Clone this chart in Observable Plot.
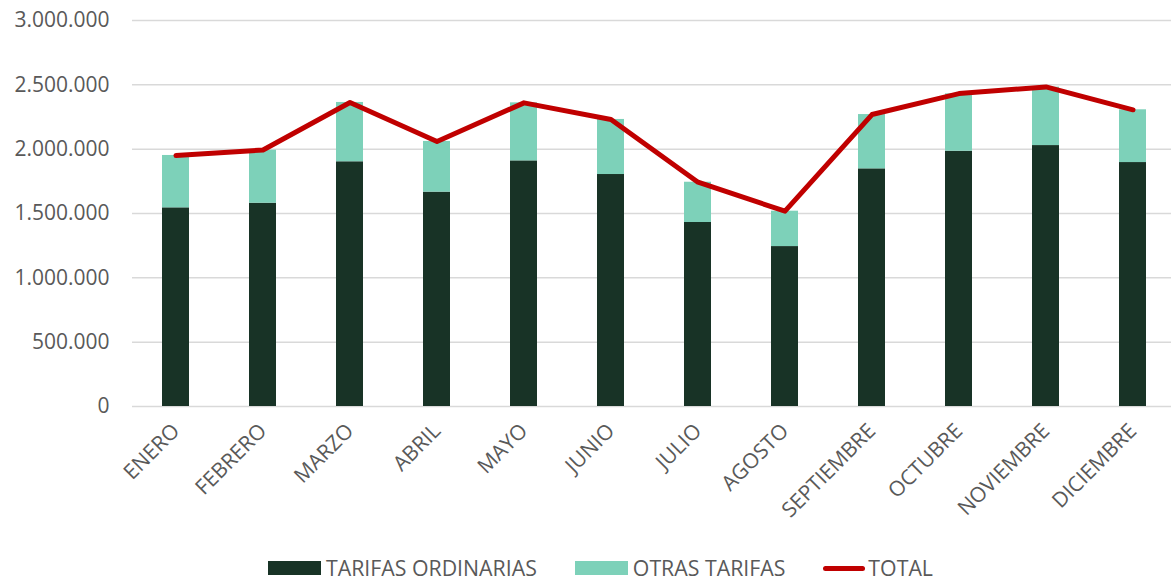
<!DOCTYPE html>
<html>
<head>
<meta charset="utf-8">
<script src="https://cdn.jsdelivr.net/npm/d3@7"></script>
<script src="https://cdn.jsdelivr.net/npm/@observablehq/plot@0.6"></script>
<style>
  html, body { margin: 0; padding: 0; background: #fff; }
  body { width: 1171px; height: 580px; position: relative; overflow: hidden; font-family: "Open Sans", sans-serif; }
  #chart { position: absolute; left: 0; top: 0; }
  #legend { position: absolute; top: 558px; left: 268px; height: 20px; line-height: 20px; display: flex; align-items: center; font-size: 21.3px; color: #595959; white-space: nowrap; }
  .sw { width: 53px; height: 14px; margin-right: 5px; }
  .ln { width: 42px; height: 5px; border-radius: 3px; background: #C00000; margin-right: 3px; }
  .item { display: flex; align-items: center; margin-right: 38px; }
</style>
</head>
<body>
<div id="chart"></div>
<div id="legend">
  <div class="item"><div class="sw" style="background:#183326"></div><span>TARIFAS ORDINARIAS</span></div>
  <div class="item"><div class="sw" style="background:#7DD1B9"></div><span>OTRAS TARIFAS</span></div>
  <div class="item"><div class="ln"></div><span>TOTAL</span></div>
</div>
<script>
const months = ["ENERO","FEBRERO","MARZO","ABRIL","MAYO","JUNIO","JULIO","AGOSTO","SEPTIEMBRE","OCTUBRE","NOVIEMBRE","DICIEMBRE"];
const ordinarias = [1544000,1580000,1902000,1666000,1909000,1803000,1430000,1243000,1847000,1984000,2028000,1896000];
const otras = [407000,412000,461000,394000,451000,428000,313000,275000,422000,446000,454000,410000];
const total = [1951000,1994000,2363000,2060000,2360000,2231000,1743000,1518000,2269000,2432000,2484000,2306000];
const yTicks = [0,500000,1000000,1500000,2000000,2500000,3000000];
const seriesNames = ["TARIFAS ORDINARIAS","OTRAS TARIFAS"];
const seriesColors = ["#183326","#7DD1B9"];

const long = [];
months.forEach((m,i) => {
  long.push({month: m, serie: seriesNames[0], value: ordinarias[i]});
  long.push({month: m, serie: seriesNames[1], value: otras[i]});
});
const totals = months.map((m,i) => ({month: m, total: total[i]}));

const loc = d3.formatLocale({decimal: ",", thousands: ".", grouping: [3], currency: ["",""]});
const fmt = loc.format(",d");

const chart = Plot.plot({
  width: 1171,
  height: 540,
  marginTop: 20,
  marginBottom: 134,
  marginLeft: 132,
  marginRight: 0,
  style: {fontFamily: "Open Sans, sans-serif", color: "#595959", background: "#fff"},
  x: {domain: months, range: [132, 1176], paddingInner: 0.69, paddingOuter: 0.345, label: null},
  y: {domain: [0, 3000000], label: null},
  color: {domain: seriesNames, range: seriesColors},
  marks: [
    Plot.ruleY(yTicks, {stroke: "#d9d9d9", strokeWidth: 1.5}),
    Plot.barY(long, {x: "month", y: "value", fill: "serie", order: seriesNames}),
    Plot.line(totals, {x: "month", y: "total", stroke: "#C00000", strokeWidth: 5, strokeLinecap: "round", strokeLinejoin: "round"}),
    Plot.axisY({ticks: yTicks, tickFormat: fmt, tickSize: 0, tickPadding: 23, fontSize: 21, fill: "#595959", label: null}),
    Plot.axisX({tickSize: 0, tickRotate: -45, tickPadding: 21, fontSize: 21, fill: "#595959", label: null})
  ]
});
document.getElementById("chart").appendChild(chart);
</script>
</body>
</html>
